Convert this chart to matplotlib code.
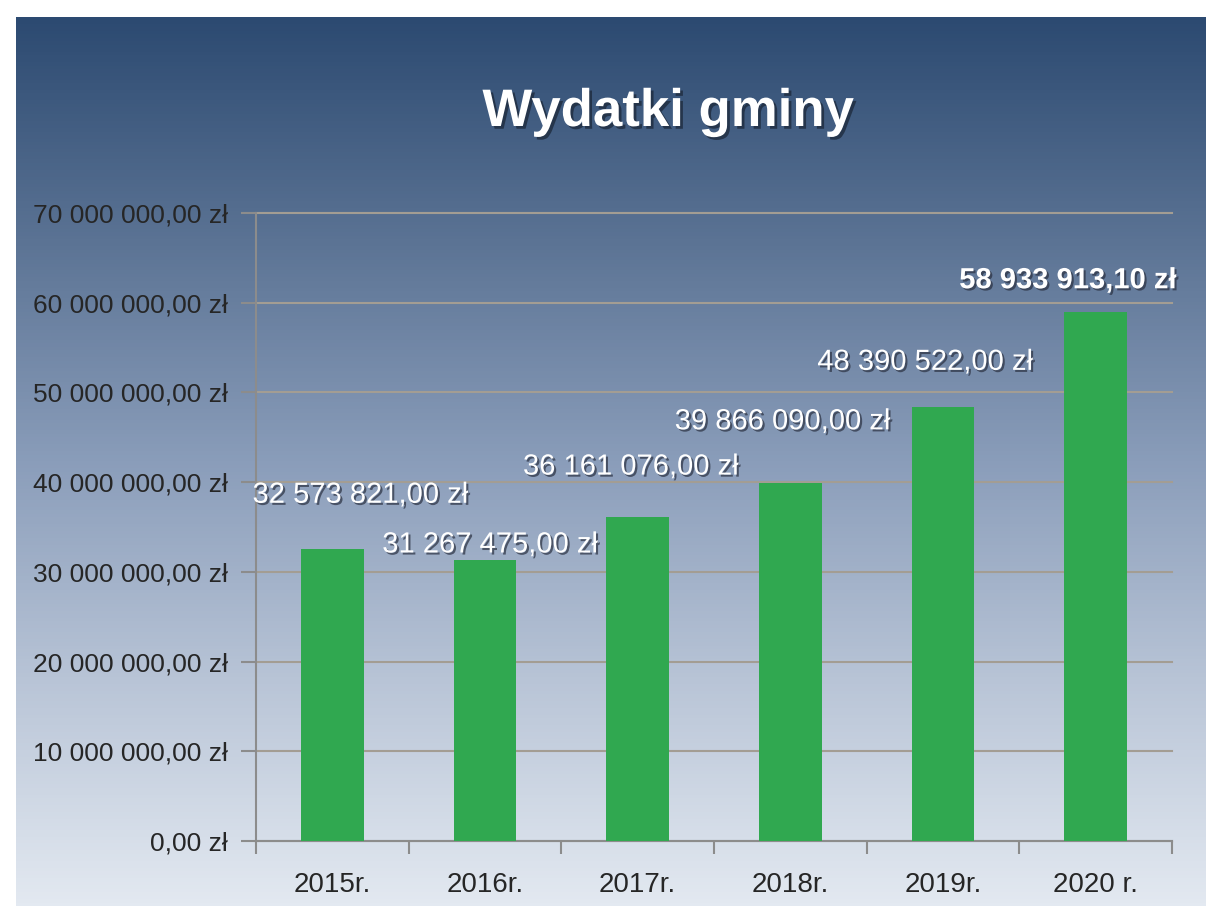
import numpy as np
import matplotlib.pyplot as plt
import matplotlib.patheffects as pe
from matplotlib.colors import LinearSegmentedColormap

plt.rcParams['font.family'] = ['Liberation Sans', 'DejaVu Sans']

years = ["2015r.", "2016r.", "2017r.", "2018r.", "2019r.", "2020 r."]
values = [32573821.00, 31267475.00, 36161076.00, 39866090.00, 48390522.00, 58933913.10]
# label offsets in pixels (placed by hand in the original)
labelDx = [28, 5, -7, -8, -18, -28]
labelDy = [54, 16, 50, 62, 45, 32]
labelBold = [False, False, False, False, False, True]


def plnFormat(v):
    whole = int(v)
    cents = int(round((v - whole) * 100))
    s = "{:,}".format(whole).replace(",", " ")
    return s + ",{:02d} zł".format(cents)


fig = plt.figure(figsize=(12.06, 9.06), dpi=100)
fig.patch.set_facecolor("white")

# gradient background
bg = fig.add_axes([16 / 1206, 0, 1 - 16 / 1206, (906 - 17) / 906])
bgMap = LinearSegmentedColormap.from_list(
    "bg", ["#2c4a71", "#5b7394", "#8a9dba", "#b9c5d7", "#e3e9f1"])
grad = np.linspace(0, 1, 256).reshape(-1, 1)
bg.imshow(grad, aspect="auto", cmap=bgMap, extent=[0, 1, 0, 1])
bg.axis("off")

ax = fig.add_axes([256 / 1206, 65 / 906, (1172 - 256) / 1206, (841 - 213) / 906])
ax.set_facecolor("none")

x = np.arange(len(years))
ax.bar(x, values, width=0.41, color="#30a850", zorder=3)

yticks = [0, 10000000, 20000000, 30000000, 40000000, 50000000, 60000000, 70000000]
ax.set_xlim(-0.5, len(years) - 0.5)
ax.set_ylim(0, 70000000)
ax.set_yticks(yticks)
ax.set_yticklabels([plnFormat(v) for v in yticks])
ax.yaxis.grid(True, color="#a39d93", linewidth=1.5, zorder=0)
for gl in ax.get_ygridlines():
    gl.set_clip_on(False)

ax.set_xticks(x)
ax.set_xticklabels(years)
ax.set_xticks(np.arange(-0.5, len(years)), minor=True)
ax.tick_params(axis="x", which="major", length=0, pad=22, labelsize=20, labelcolor="#262626")
ax.tick_params(axis="x", which="minor", length=9, width=1.5, color="#8c8c8c", direction="out")
ax.tick_params(axis="y", length=11, width=1.5, color="#8c8c8c", pad=9, labelsize=19, labelcolor="#262626")

for side in ["top", "right"]:
    ax.spines[side].set_visible(False)
for side in ["left", "bottom"]:
    ax.spines[side].set_color("#8c8c8c")
    ax.spines[side].set_linewidth(1.5)

shadow = [pe.withSimplePatchShadow(offset=(1.5, -1.5), shadow_rgbFace="#2a3040", alpha=0.7)]
for i, v in enumerate(values):
    ax.annotate(plnFormat(v), (x[i], v), xytext=(labelDx[i], labelDy[i]),
                textcoords="offset pixels", ha="center", va="center",
                fontsize=21, color="white",
                fontweight="bold" if labelBold[i] else "normal",
                path_effects=shadow, zorder=5)

fig.text(668 / 1206, 1 - 112 / 906, "Wydatki gminy", ha="center", va="center",
         fontsize=38, fontweight="bold", color="white",
         path_effects=[pe.withSimplePatchShadow(offset=(2, -2), shadow_rgbFace="#1a2535", alpha=0.7)])

fig.savefig("out.png", dpi=100)
